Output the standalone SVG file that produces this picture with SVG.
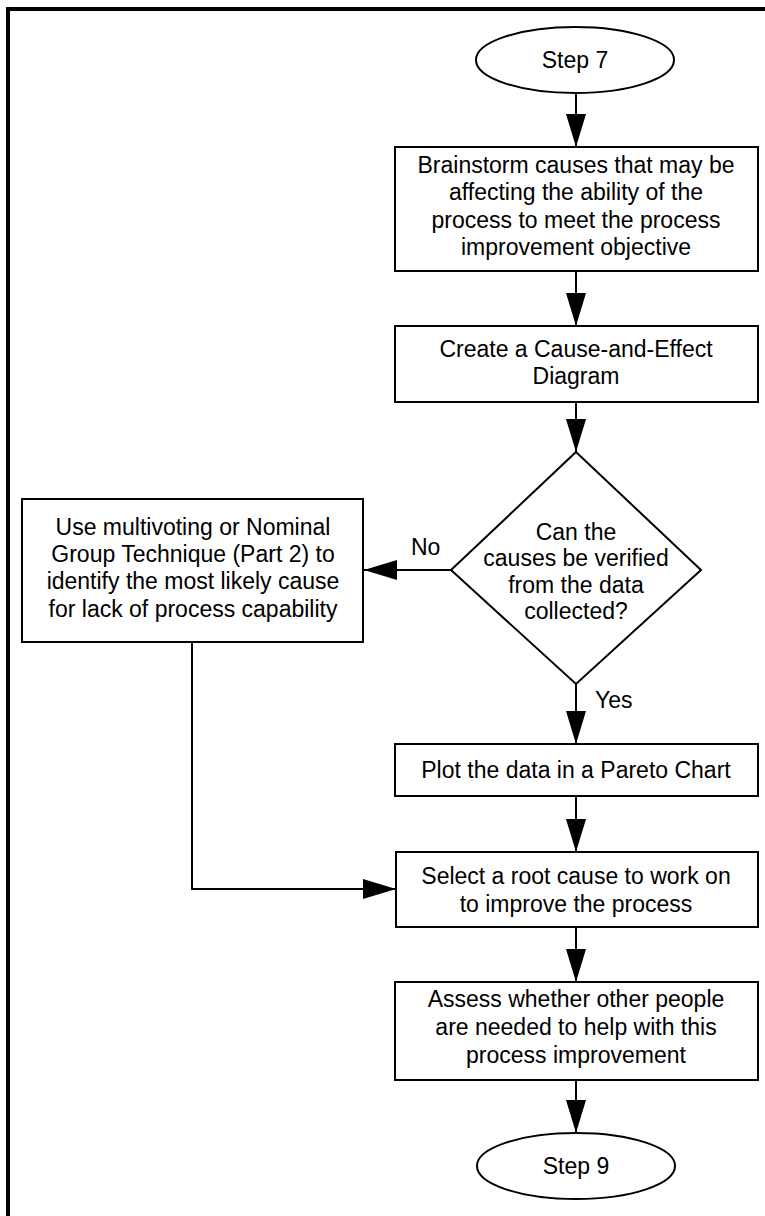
<svg xmlns="http://www.w3.org/2000/svg" width="765" height="1216" viewBox="0 0 765 1216">
  <style>
    .shape { fill: #ffffff; stroke: #000000; stroke-width: 2; }
    .diamond { fill: #ffffff; stroke: #000000; stroke-width: 2; }
    .t { font-family: "Liberation Sans", Arial, sans-serif; font-size: 23px; fill: #000000; text-anchor: middle; }
    .lbl { font-family: "Liberation Sans", Arial, sans-serif; font-size: 23px; fill: #000000; }
    .conn { fill: none; stroke: #000000; stroke-width: 2; }
    .frame { fill: none; stroke: #000000; stroke-width: 4; }
  </style>
  <defs>
    <marker id="arr" viewBox="0 0 33 20" refX="33" refY="10" markerWidth="33" markerHeight="20" markerUnits="userSpaceOnUse" orient="auto">
      <path d="M0,0 L33,10 L0,20 Z" fill="#000000"/>
    </marker>
  </defs>
  <rect x="0" y="0" width="765" height="1216" fill="#ffffff"/>
  <path class="frame" d="M8,1216 V9 H765"/>

  <g id="connectors">
    <path class="conn" d="M576,93 V147" marker-end="url(#arr)"/>
    <path class="conn" d="M576,271 V326" marker-end="url(#arr)"/>
    <path class="conn" d="M576,402 V452" marker-end="url(#arr)"/>
    <path class="conn" d="M451,570 H364" marker-end="url(#arr)"/>
    <path class="conn" d="M576,684 V744" marker-end="url(#arr)"/>
    <path class="conn" d="M576,796 V852" marker-end="url(#arr)"/>
    <path class="conn" d="M192,642 V889 H396" marker-end="url(#arr)"/>
    <path class="conn" d="M576,927 V982" marker-end="url(#arr)"/>
    <path class="conn" d="M576,1080 V1133" marker-end="url(#arr)"/>
    <text class="lbl" x="411" y="555">No</text>
    <text class="lbl" x="595" y="708">Yes</text>
  </g>

  <g id="step7">
    <ellipse class="shape" cx="575" cy="60" rx="99" ry="33"/>
    <text class="t" x="575" y="68">Step 7</text>
  </g>

  <g id="brainstorm">
    <rect class="shape" x="395" y="147" width="363" height="124"/>
    <text class="t" x="576" y="173">Brainstorm causes that may be</text>
    <text class="t" x="576" y="200">affecting the ability of the</text>
    <text class="t" x="576" y="228">process to meet the process</text>
    <text class="t" x="576" y="255">improvement objective</text>
  </g>

  <g id="cause-effect">
    <rect class="shape" x="395" y="326" width="363" height="76"/>
    <text class="t" x="576" y="357">Create a Cause-and-Effect</text>
    <text class="t" x="576" y="384">Diagram</text>
  </g>

  <g id="decision">
    <polygon class="diamond" points="576,452 701,570 576,684 451,570"/>
    <text class="t" x="576" y="540">Can the</text>
    <text class="t" x="576" y="566">causes be verified</text>
    <text class="t" x="576" y="593">from the data</text>
    <text class="t" x="576" y="619">collected?</text>
  </g>

  <g id="multivoting">
    <rect class="shape" x="22" y="499" width="341" height="143"/>
    <text class="t" x="193" y="535">Use multivoting or Nominal</text>
    <text class="t" x="193" y="562">Group Technique (Part 2) to</text>
    <text class="t" x="193" y="589">identify the most likely cause</text>
    <text class="t" x="193" y="617">for lack of process capability</text>
  </g>

  <g id="pareto">
    <rect class="shape" x="395" y="744" width="363" height="52"/>
    <text class="t" x="576" y="778">Plot the data in a Pareto Chart</text>
  </g>

  <g id="select">
    <rect class="shape" x="396" y="852" width="362" height="75"/>
    <text class="t" x="576" y="884">Select a root cause to work on</text>
    <text class="t" x="576" y="912">to improve the process</text>
  </g>

  <g id="assess">
    <rect class="shape" x="395" y="982" width="363" height="98"/>
    <text class="t" x="576" y="1007">Assess whether other people</text>
    <text class="t" x="576" y="1035">are needed to help with this</text>
    <text class="t" x="576" y="1063">process improvement</text>
  </g>

  <g id="step9">
    <ellipse class="shape" cx="576" cy="1166" rx="99" ry="33"/>
    <text class="t" x="576" y="1174">Step 9</text>
  </g>
</svg>
